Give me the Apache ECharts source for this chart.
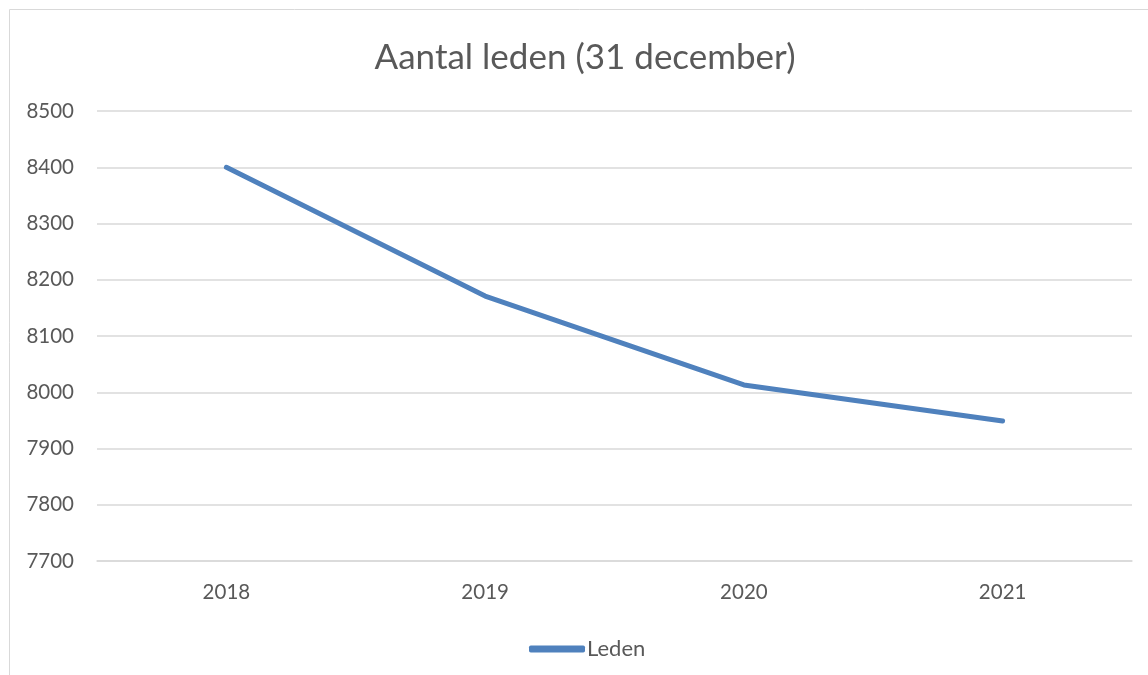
<!DOCTYPE html>
<html>
<head>
<meta charset="utf-8">
<script src="https://cdn.jsdelivr.net/npm/echarts@6/dist/echarts.min.js"></script>
<style>
    html, body { margin: 0; padding: 0; background: #fff; }
    #chart { width: 1148px; height: 675px; }
</style>
</head>
<body>
<div id="chart"></div>
<script>
    // jaren en aantallen
    var jaren = ['2018', '2019', '2020', '2021'];
    var leden = [8400, 8171, 8013, 7949];
    var yMin = 7700, yMax = 8500, yStap = 100;

    var fontNaam = 'Lato, "Open Sans", sans-serif';
    var grijs = '#595959';

    var myChart = echarts.init(document.getElementById('chart'));

    var option = {
        animation: false,
        textStyle: { fontFamily: fontNaam, color: grijs },
        graphic: [{
            type: 'rect',
            shape: { x: 9.5, y: 9.5, width: 1160, height: 700 },
            style: { fill: 'none', stroke: '#d9d9d9', lineWidth: 1 },
            silent: true
        }],
        title: {
            text: 'Aantal leden (31 december)',
            left: 580,
            textAlign: 'center',
            top: 35,
            textStyle: { fontFamily: fontNaam, color: grijs, fontSize: 35, fontWeight: 'normal' }
        },
        legend: {
            data: ['Leden'],
            left: 524,
            top: 633,
            icon: 'roundRect',
            itemWidth: 56,
            itemHeight: 7,
            itemGap: 4,
            textStyle: { fontFamily: fontNaam, color: grijs, fontSize: 22, padding: [0, 0, 0, -3] }
        },
        grid: {
            left: 97,
            right: 16,
            top: 111,
            bottom: 114
        },
        xAxis: {
            type: 'category',
            data: jaren,
            boundaryGap: true,
            axisLine: { show: true, lineStyle: { color: '#d9d9d9', width: 1.5 } },
            axisTick: { show: false },
            axisLabel: { color: grijs, fontSize: 20.5, margin: 21, fontFamily: fontNaam }
        },
        yAxis: {
            type: 'value',
            min: yMin,
            max: yMax,
            interval: yStap,
            axisLine: { show: false },
            axisTick: { show: false },
            axisLabel: {
                color: grijs, fontSize: 20.5, margin: 23, fontFamily: fontNaam,
                formatter: function (v) { return String(v); }
            },
            splitLine: { show: true, lineStyle: { color: '#d9d9d9', width: 1.5 } }
        },
        series: [{
            name: 'Leden',
            type: 'line',
            data: leden,
            symbol: 'none',
            lineStyle: { color: '#4F81BD', width: 5, cap: 'round', join: 'round' },
            itemStyle: { color: '#4F81BD' }
        }]
    };

    myChart.setOption(option);
</script>
</body>
</html>
